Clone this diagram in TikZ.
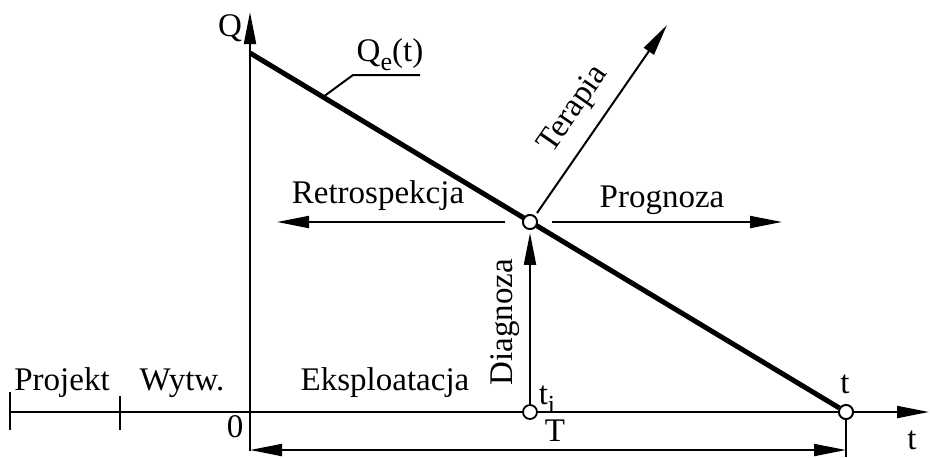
\documentclass[tikz,border=0pt]{standalone}
\usepackage{fontspec}
\setmainfont{Liberation Serif}
\usetikzlibrary{arrows.meta}
\begin{document}
\begin{tikzpicture}[x=0.5pt,y=-0.5pt,
  thin line/.style={line width=1pt},
  heavy/.style={line width=2.5pt},
  arr/.style={thin line,-{Triangle[length=16pt,width=6pt]}},
  dimarr/.style={thin line,{Triangle[length=16pt,width=6pt]}-{Triangle[length=16pt,width=6pt]}},
  pt/.style={circle,draw,fill=white,line width=0.9pt,inner sep=0pt,minimum size=7pt},
  lbl/.style={font=\fontsize{16.5}{18}\selectfont,inner sep=0pt}]
\useasboundingbox (0,0) rectangle (930,457);
% coordinates
\coordinate (axL) at (10,412);
\coordinate (axR) at (929,412);
\coordinate (yB) at (250,451);
\coordinate (yT) at (250,12);
\coordinate (qs) at (250,53);
\coordinate (dL) at (250,450);
\coordinate (dR) at (846,450);
\coordinate (vB) at (846,457);
\coordinate (rs) at (505,222);
\coordinate (re) at (277,222);
\coordinate (ps) at (552,222);
\coordinate (pe) at (782,222);
\coordinate (ts) at (537,213);
\coordinate (te2) at (667,25);
\coordinate (l1) at (323,97);
\coordinate (l2) at (353,75);
\coordinate (l3) at (420,75);
\coordinate (k1a) at (10,392);
\coordinate (k1b) at (10,430);
\coordinate (k2a) at (120,396);
\coordinate (k2b) at (120,430);
% axes
\draw[arr] (axL) -- (axR);
\draw[arr] (yB) -- (yT);
\draw[thin line] (k1a) -- (k1b);
\draw[thin line] (k2a) -- (k2b);
% dimension T
\draw[dimarr] (dL) -- (dR);
% main line
\node[pt] (te) at (846,412) {};
\node[pt] (ci) at (530,222) {};
\node[pt] (ti) at (530,412) {};
\draw[heavy] (qs) -- (te);
\draw[thin line] (te) -- (vB);
\node[pt] at (ci) {};
\node[pt] at (te) {};
% arrows
\draw[arr,shorten >=1.5pt] (ti) -- (ci);
\draw[arr] (rs) -- (re);
\draw[arr] (ps) -- (pe);
\draw[arr] (ts) -- (te2);
\draw[thin line] (l1) -- (l2) -- (l3);
% labels
\node[lbl] (Q) at (230,28) {Q};
\node[lbl] (Qe) at (390,55) {Q\raisebox{-0.6ex}{\fontsize{13}{13}\selectfont e}(t)};
\node[lbl] (retro) at (378,196) {Retrospekcja};
\node[lbl] (progn) at (662,200) {Prognoza};
\node[lbl,rotate=55.3] (ter) at (574,110) {Terapia};
\node[lbl,rotate=90] (diag) at (505,322) {Diagnoza};
\node[lbl] (tiL) at (547,400) {t\raisebox{-0.6ex}{\fontsize{13}{13}\selectfont i}};
\node[lbl] (tL) at (845,384) {t};
\node[lbl] (TL) at (555,431) {T};
\node[lbl] (taxis) at (912,440) {t};
\node[lbl] (zero) at (235,427) {0};
\node[lbl] (proj) at (62,383) {Projekt};
\node[lbl] (wyt) at (182,383) {Wytw.};
\node[lbl] (eks) at (385,383) {Eksploatacja};
\end{tikzpicture}
\end{document}
